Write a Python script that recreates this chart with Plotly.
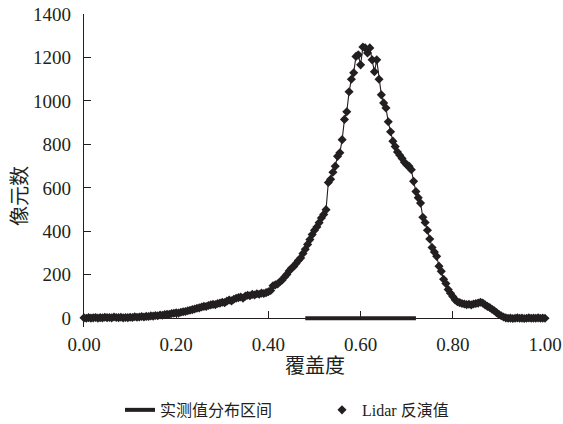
import plotly.graph_objects as go

# Lidar retrieved coverage histogram (step 0.005)
coverage = [round(i * 0.005, 3) for i in range(201)]
pixel_counts = [
    2, 0, 3, 1, 2, 4, 1, 3, 2, 5,
    3, 4, 2, 6, 4, 3, 5, 2, 4, 3,
    5, 4, 7, 5, 6, 8, 6, 9, 8, 11,
    10, 13, 12, 15, 14, 17, 19, 18, 22, 23,
    25, 24, 28, 30, 31, 35, 37, 40, 43, 46,
    48, 52, 55, 54, 59, 62, 64, 63, 68, 70,
    74, 72, 79, 84, 80, 88, 92, 95, 98, 93,
    102, 106, 104, 110, 107, 113, 111, 116, 114, 118,
    122, 128, 150, 154, 158, 168, 176, 190, 202, 218,
    230, 238, 252, 266, 278, 298, 318, 340, 362, 385,
    405, 420, 440, 462, 478, 500, 625, 640, 672, 700,
    745, 762, 822, 915, 950, 1042, 1100, 1130, 1205, 1212,
    1166, 1248, 1244, 1221, 1244, 1189, 1134, 1189, 1100, 1028,
    991, 968, 904, 858, 815, 790, 765, 750, 735, 718,
    706, 700, 684, 630, 583, 555, 530, 465, 441, 405,
    365, 326, 305, 285, 240, 216, 180, 160, 132, 115,
    100, 85, 76, 72, 68, 66, 63, 65, 62, 66,
    68, 70, 74, 70, 62, 55, 50, 42, 35, 26,
    18, 12, 6, 2, 0, 1, -1, 0, 2, 0,
    1, -1, 0, 2, 0, 1, 0, 2, 0, 1,
    0,
]

# measured value range
range_x = [0.48, 0.72]
range_y = [0, 0]

x_ticks = [0.0, 0.2, 0.4, 0.6, 0.8, 1.0]
x_tick_labels = ["0.00", "0.20", "0.40", "0.60", "0.80", "1.00"]
y_ticks = [0, 200, 400, 600, 800, 1000, 1200, 1400]

INK = "#231f20"
FONT = "Liberation Serif, Times New Roman, Noto Sans CJK SC, serif"

W, H = 563, 424
L, T, PW, PH = 84, 14, 461, 313

fig = go.Figure()
fig.add_trace(go.Scatter(
    x=range_x, y=range_y, mode="lines", name="实测值分布区间",
    line=dict(color=INK, width=4), cliponaxis=False,
))
fig.add_trace(go.Scatter(
    x=coverage, y=pixel_counts, mode="lines+markers", name="Lidar 反演值",
    line=dict(color=INK, width=1.1),
    marker=dict(symbol="diamond", size=7, color=INK),
    cliponaxis=False, showlegend=False, legendgroup="lidar",
))
# legend entry for the Lidar series (marker only, as in the original)
fig.add_trace(go.Scatter(
    x=[None], y=[None], mode="markers", name="Lidar 反演值",
    marker=dict(symbol="diamond", size=7, color=INK), legendgroup="lidar",
))

fig.update_layout(
    width=W, height=H,
    margin=dict(l=L, r=W - L - PW, t=T, b=H - T - PH, autoexpand=False),
    paper_bgcolor="white", plot_bgcolor="white",
    font=dict(family=FONT, color=INK, size=19),
    showlegend=True,
    legend=dict(
        orientation="h", x=(120 - L) / PW, xanchor="left", y=-0.265, yanchor="middle",
        font=dict(size=16, family=FONT, color=INK),
        entrywidth=157, bgcolor="rgba(0,0,0,0)",
    ),
    xaxis=dict(
        range=[0, 1], tickvals=x_ticks, ticktext=x_tick_labels,
        showgrid=False, zeroline=False, showline=True, linecolor=INK, linewidth=1.3,
        ticks="inside", ticklen=7, tickcolor=INK, tickwidth=1.2,
        anchor="free", position=40 / 1440, side="bottom",
        ticklabelstandoff=9, automargin=False, ticklabeloverflow="allow",
    ),
    yaxis=dict(
        range=[-40, 1400], tickvals=y_ticks,
        showgrid=False, zeroline=False, showline=True, linecolor=INK, linewidth=1.3,
        ticks="inside", ticklen=7, tickcolor=INK, tickwidth=1.2,
        ticklabelstandoff=8, automargin=False, ticklabeloverflow="allow",
    ),
    annotations=[
        dict(text="覆盖度", xref="paper", yref="paper", x=(315 - L) / PW,
             y=(T + PH - 366) / PH, xanchor="center", yanchor="middle",
             showarrow=False, font=dict(size=20, family=FONT, color=INK)),
        dict(text="像元数", xref="paper", yref="paper", x=(20 - L) / PW,
             y=(T + PH - 196) / PH, xanchor="center", yanchor="middle",
             textangle=-90, showarrow=False,
             font=dict(size=20, family=FONT, color=INK)),
    ],
)

# remove the default page margin so the figure fills the window exactly
fig.write_html("out.html", config={"displayModeBar": False},
               post_script="document.body.style.margin='0';")
